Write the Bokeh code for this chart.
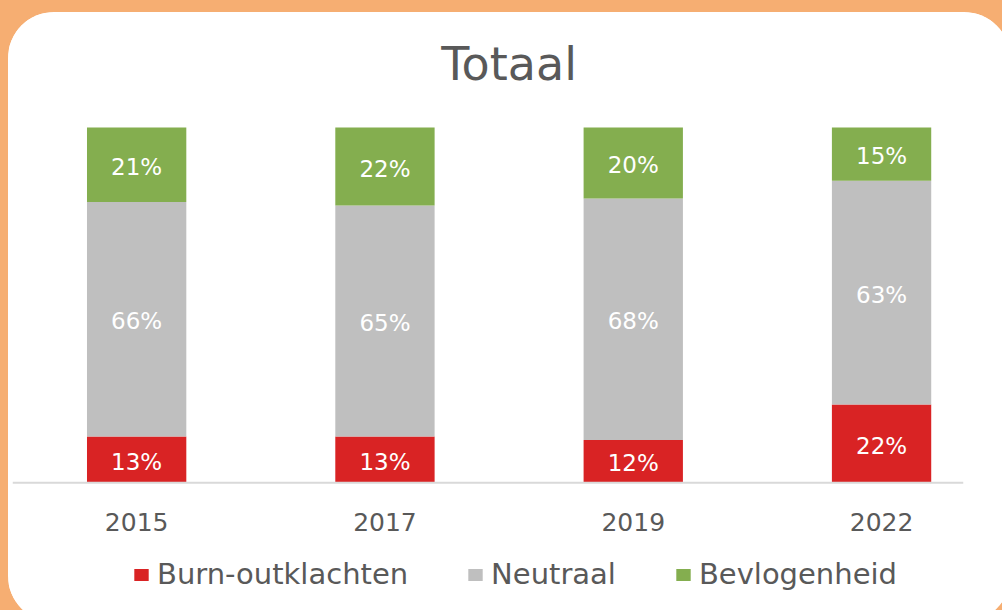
from bokeh.plotting import figure
from bokeh.models import (ColumnDataSource, Range1d, Legend, LegendItem, Label, Span)
from bokeh.layouts import column
from bokeh.core.properties import value
from bokeh.embed import file_html
from bokeh.resources import INLINE

# ---- data ----
years = ["2015", "2017", "2019", "2022"]
burnout = [13, 13, 12, 22]
neutraal = [66, 65, 68, 63]
bevlogen = [21, 22, 20, 15]
series_names = ["Burn-outklachten", "Neutraal", "Bevlogenheid"]
title_text = "Totaal"

# ---- styles ----
RED = "#D92324"
GREY = "#BFBFBF"
GREEN = "#84AE4F"
TEXT = "#595959"
ORANGE = "#F6AE72"
FONT = "DejaVu Sans"

xs = list(range(len(years)))
source = ColumnDataSource(dict(x=xs, burn=burnout, neutraal=neutraal, bevlogen=bevlogen))

# frame: 0..100 % spans the bars; room above holds the title, below the year labels and legend
p = figure(width=1004, height=616, output_backend="svg", toolbar_location=None, title=None,
           x_range=Range1d(-0.5, 3.33), y_range=Range1d(-30.64, 127.86),
           x_axis_location=None, y_axis_location=None,
           min_border_left=4, min_border_right=47, min_border_top=16, min_border_bottom=31)
p.border_fill_color = "white"
p.background_fill_color = "white"
p.outline_line_color = None
p.grid.visible = False

renderers = p.vbar_stack(["burn", "neutraal", "bevlogen"], x="x", width=0.4,
                         color=[RED, GREY, GREEN], line_color=None, source=source)

# baseline (category axis line)
p.add_layout(Span(location=0, dimension="width", line_color="#D9D9D9", line_width=2))

# category labels under the baseline
p.text(x=xs, y=[0] * len(xs), text=years, text_color=TEXT, text_align="center",
       text_baseline="middle", text_font=value(FONT), text_font_size="25px", y_offset=39)

# value labels in the middle of each segment
lx, ly, lt = [], [], []
for i in range(len(years)):
    base = 0
    for v in (burnout[i], neutraal[i], bevlogen[i]):
        lx.append(xs[i])
        ly.append(base + v / 2)
        lt.append(f"{v}%")
        base += v
p.text(x=lx, y=ly, text=lt, text_color="white", text_align="center",
       text_baseline="middle", text_font=value(FONT), text_font_size="23px", y_offset=2)

# title
p.add_layout(Label(x=1.5, y=117.8, text=title_text, text_align="center",
                   text_baseline="middle", text_font=FONT, text_font_size="46px",
                   text_color=TEXT))

legend = Legend(items=[LegendItem(label=n, renderers=[r]) for n, r in zip(series_names, renderers)],
                orientation="horizontal", location=(120, 0),
                label_text_font=FONT, label_text_font_size="29px", label_text_color=TEXT,
                glyph_width=18, glyph_height=15, label_standoff=7, spacing=58,
                padding=0, margin=0, border_line_color=None, background_fill_alpha=0)
p.add_layout(legend, "center")

card = column(p, width=1004, height=616, margin=(12, 0, 0, 8),
              styles={"background-color": "white", "border-radius": "46px", "overflow": "hidden"})
page = column(card, width=1002, height=610,
              styles={"background-color": ORANGE, "overflow": "hidden"})

open("out.html", "w").write(file_html(page, INLINE))
